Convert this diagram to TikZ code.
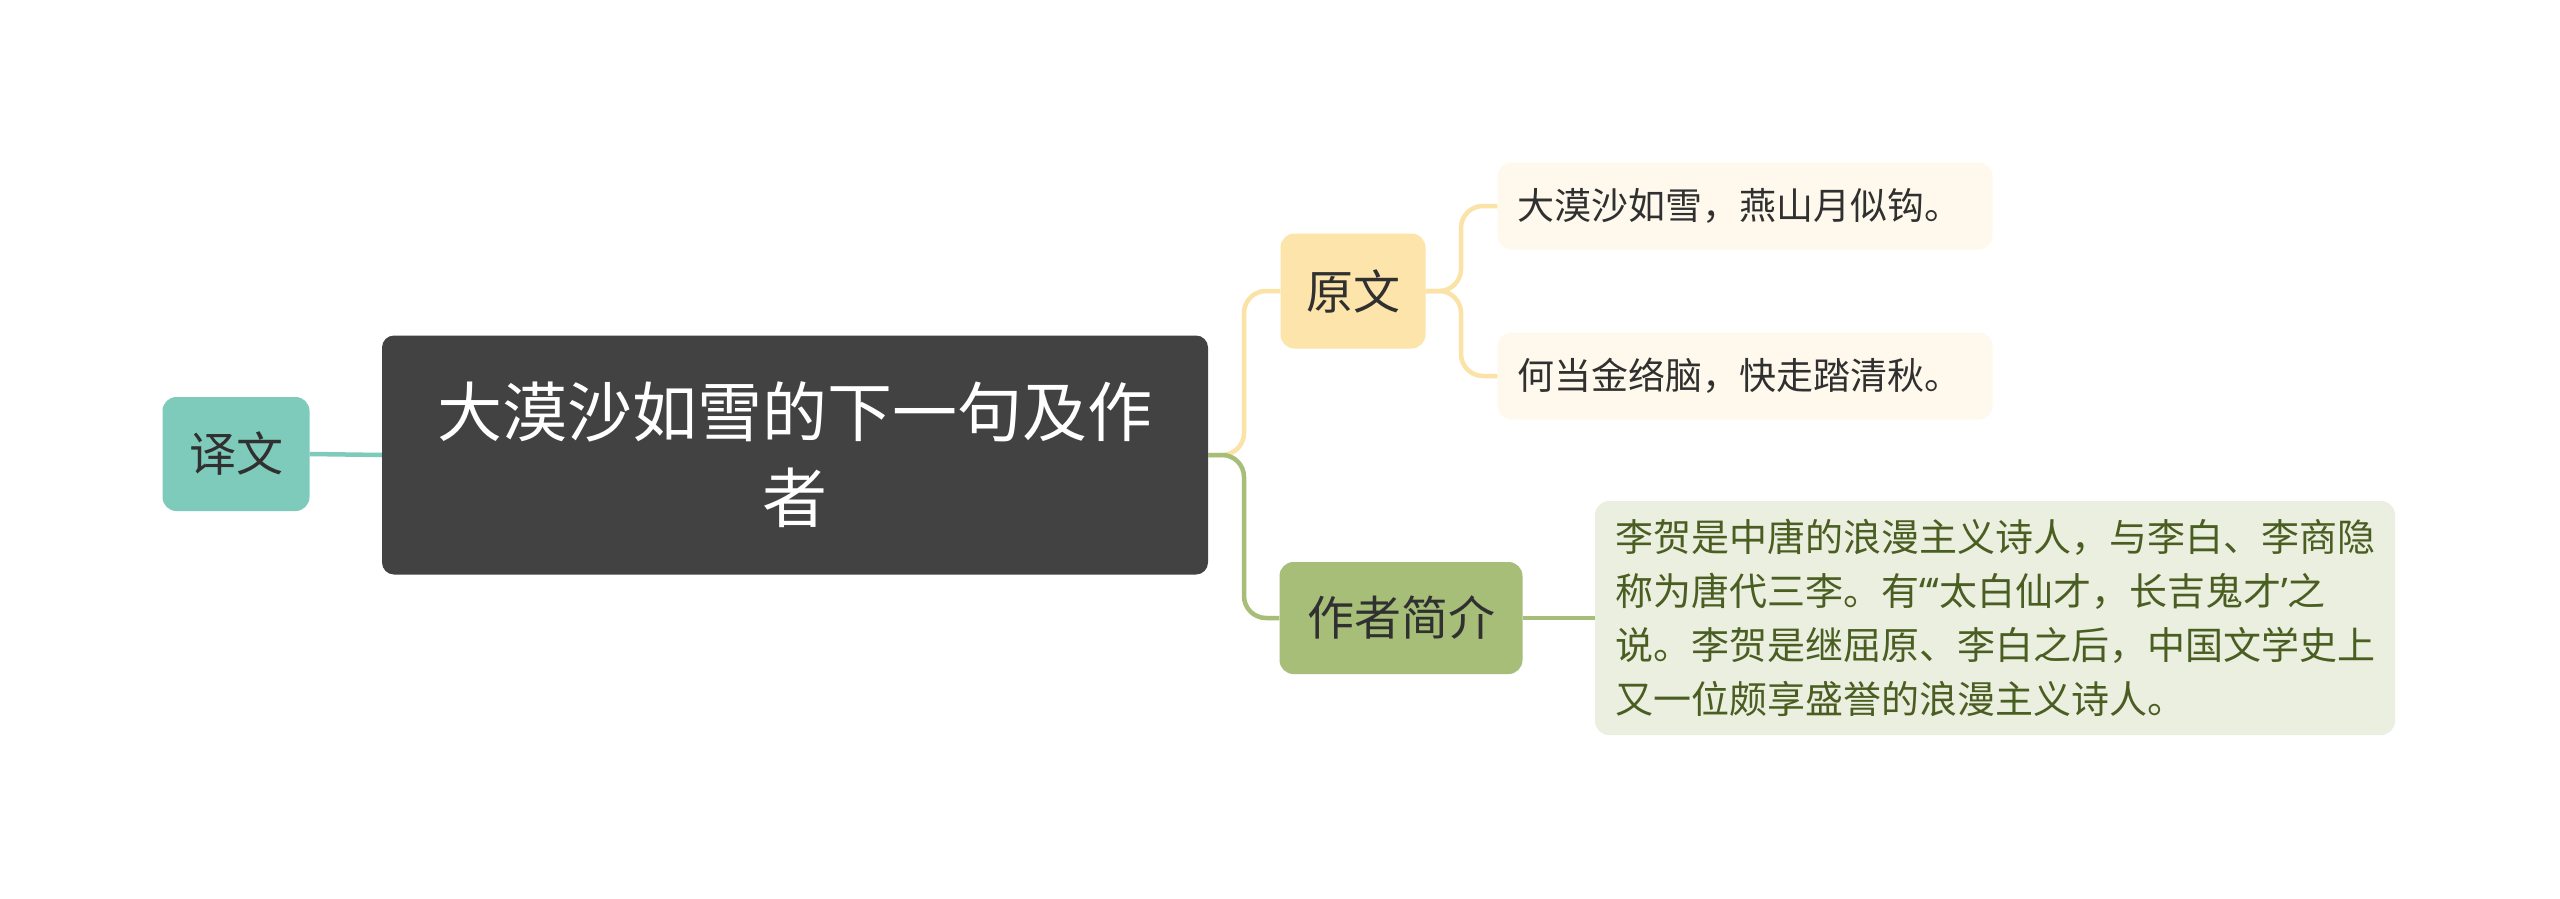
\documentclass[tikz,border=0pt]{standalone}
\usepackage{fontspec}
\setmainfont{Noto Sans CJK SC}
\newfontfamily\latq{Noto Sans}
\definecolor{teal1}{HTML}{7FCBBB}
\definecolor{dark1}{HTML}{424242}
\definecolor{yel1}{HTML}{FDE4AA}
\definecolor{yelline}{HTML}{FBE3A8}
\definecolor{grn1}{HTML}{A6BE78}
\definecolor{leafy}{HTML}{FEF9EC}
\definecolor{leafg}{HTML}{EBEFE0}
\definecolor{txtg}{HTML}{4B5E22}
\definecolor{txt}{HTML}{303030}
\tikzset{
  box/.style={rectangle, rounded corners=14pt, inner sep=0pt, align=center, text=txt},
  leafbox/.style={box, align=left, inner xsep=20pt, inner ysep=0pt},
  conn/.style={line width=4.5pt, rounded corners=22pt},
}
\begin{document}
\begin{tikzpicture}[x=1pt,y=-1pt]
\useasboundingbox[fill=white] (0,0) rectangle (2560,899);
\node[box, fill=dark1, text=white, minimum width=826pt, minimum height=239pt, font=\fontsize{65}{86}\selectfont, rounded corners=12pt] (c) at (795,455) {大漠沙如雪的下一句及作\\者};
\node[box, fill=teal1, minimum width=147pt, minimum height=114pt, font=\fontsize{47}{56}\selectfont] (yw) at (236,454) {译文};
\node[box, fill=yel1, minimum width=145pt, minimum height=115pt, font=\fontsize{47}{56}\selectfont] (yuan) at (1353,291) {原文};
\node[box, fill=grn1, minimum width=243pt, minimum height=112pt, font=\fontsize{47}{56}\selectfont] (zz) at (1401,618) {作者简介};
\node[leafbox, fill=leafy, text width=455pt, minimum height=87pt, font=\fontsize{37}{48}\selectfont] (l1) at (1745,206) {大漠沙如雪，燕山月似钩。};
\node[leafbox, fill=leafy, text width=455pt, minimum height=87pt, font=\fontsize{37}{48}\selectfont] (l2) at (1745,376) {何当金络脑，快走踏清秋。};
\node[leafbox, fill=leafg, text=txtg, text width=760pt, minimum height=234pt, font=\fontsize{38}{54}\selectfont] (l3) at (1995,618) {李贺是中唐的浪漫主义诗人，与李白、李商隐\\称为唐代三李。有{\latq “‘}太白仙才，长吉鬼才{\latq ’}之\\说。李贺是继屈原、李白之后，中国文学史上\\又一位颇享盛誉的浪漫主义诗人。};
\coordinate (j1) at (1244,455);
\coordinate (j2) at (1461,291);
\draw[conn, draw=teal1] (yw.east) -- (c.west);
\draw[conn, draw=yelline] (c.east) -- (j1) |- (yuan.west);
\draw[conn, draw=grn1] (c.east) -- (j1) |- (zz.west);
\draw[conn, draw=yelline] (yuan.east) -- (j2) |- (l1.west);
\draw[conn, draw=yelline] (yuan.east) -- (j2) |- (l2.west);
\draw[conn, draw=grn1] (zz.east) -- (l3.west);
\end{tikzpicture}
\end{document}
